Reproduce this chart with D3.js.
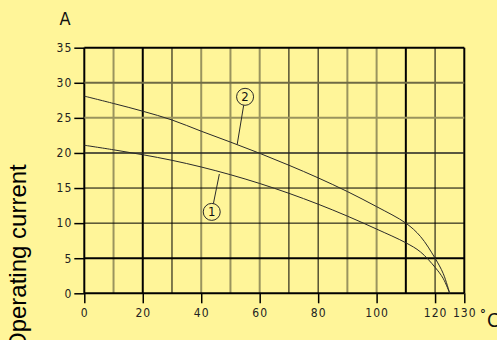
<!DOCTYPE html>
<html>
<head>
<meta charset="utf-8">
<script src="https://cdn.jsdelivr.net/npm/d3@7"></script>
<style>
  html, body { margin: 0; padding: 0; background: #fff599; }
  svg { display: block; }
</style>
</head>
<body>
<svg id="chart" width="497" height="340"></svg>
<script>
// ---- data ----
const temperature1 = [0, 10, 20, 30, 40, 50, 60, 70, 80, 90, 100, 110, 115, 120, 122.8, 125];
const current1     = [21.1, 20.45, 19.75, 18.95, 18.0, 16.9, 15.65, 14.25, 12.7, 11.0, 9.15, 7.2, 5.9, 3.7, 2.1, 0];
const temperature2 = [0, 10, 20, 30, 40, 50, 60, 70, 80, 90, 100, 110, 115, 120, 122.8, 125];
const current2     = [28.1, 27.05, 25.95, 24.7, 23.1, 21.55, 19.95, 18.25, 16.45, 14.5, 12.35, 10.0, 8.1, 5.0, 2.8, 0];
const seriesLabels = ["1", "2"];
const labelCircleX = [43.6, 55.0];   // data coords of label circles
const labelCircleY = [11.6, 28.0];
const leaderX      = [46.2, 52.3];   // point on curve the leader touches
const leaderY      = [17.0, 21.2];
const xTickValues = [0, 20, 40, 60, 80, 100, 120, 130];
const yTickValues = [0, 5, 10, 15, 20, 25, 30, 35];
const xGridValues = [0, 10, 20, 30, 40, 50, 60, 70, 80, 90, 100, 110, 120, 130];
const yGridValues = [0, 5, 10, 15, 20, 25, 30, 35];
const yUnit = "A";
const xUnitDeg = "°";
const xUnitC = "C";
const yTitle = "Operating current";

// ---- drawing ----
const svg = d3.select("#chart");
const x = d3.scaleLinear().domain([0, 130]).range([84.3, 464.3]);
const y = d3.scaleLinear().domain([0, 35]).range([293.3, 47.7]);
const narrow = "'Liberation Sans Narrow', 'DejaVu Sans Condensed', 'Liberation Sans', sans-serif";

// grid styling rules
const xThick = new Set([0, 20, 110, 130]);
const xFaint = new Set([10, 40, 50, 60, 90, 100]);
const yThick = new Set([0, 5, 35]);
function xGridStyle(v) {
  if (xThick.has(v)) return {c: "#000", w: 2};
  if (xFaint.has(v)) return {c: "#9a945e", w: 2};
  return {c: "#000", w: 1};
}
function yGridStyle(v) {
  if (yThick.has(v)) return {c: "#000", w: 2};
  if (v === 25) return {c: "#9a945e", w: 2};
  if (v === 30) return {c: "#6f6a45", w: 2};
  if (v === 20) return {c: "#222", w: 1.5};
  return {c: "#000", w: 1};
}

const grid = svg.append("g");
grid.selectAll("line.v").data(xGridValues).join("line")
  .attr("class", "v")
  .attr("x1", d => x(d)).attr("x2", d => x(d))
  .attr("y1", y(0)).attr("y2", y(35))
  .attr("stroke", d => xGridStyle(d).c)
  .attr("stroke-width", d => xGridStyle(d).w);
grid.selectAll("line.h").data(yGridValues).join("line")
  .attr("class", "h")
  .attr("x1", x(0)).attr("x2", x(130))
  .attr("y1", d => y(d)).attr("y2", d => y(d))
  .attr("stroke", d => yGridStyle(d).c)
  .attr("stroke-width", d => yGridStyle(d).w);

// axes (ticks + labels)
const yAxis = svg.append("g")
  .attr("transform", `translate(${x(0)},0)`)
  .call(d3.axisLeft(y).tickValues(yTickValues).tickSize(10).tickPadding(2));
const xAxis = svg.append("g")
  .attr("transform", `translate(0,${y(0)})`)
  .call(d3.axisBottom(x).tickValues(xTickValues).tickSize(10).tickPadding(5));
[yAxis, xAxis].forEach(a => {
  a.select(".domain").remove();
  a.selectAll(".tick line").attr("stroke", "#000").attr("stroke-width", 1.5);
  a.selectAll(".tick text")
    .attr("fill", "#222")
    .style("font-family", narrow)
    .style("font-size", "12px")
    .style("letter-spacing", "1px");
});

// curves
const line = d3.line().curve(d3.curveCatmullRom.alpha(0.5)).x(d => x(d[0])).y(d => y(d[1]));
const s1 = temperature1.map((t, i) => [t, current1[i]]);
const s2 = temperature2.map((t, i) => [t, current2[i]]);
svg.append("g").selectAll("path").data([s1, s2]).join("path")
  .attr("d", line)
  .attr("fill", "none")
  .attr("stroke", "#2a2a2a")
  .attr("stroke-width", 1);

// series labels with leaders
const labels = svg.append("g");
seriesLabels.forEach((lab, i) => {
  const cx = x(labelCircleX[i]), cy = y(labelCircleY[i]);
  const lx = x(leaderX[i]), ly = y(leaderY[i]);
  const r = 8.5;
  const ang = Math.atan2(ly - cy, lx - cx);
  labels.append("line")
    .attr("x1", cx + r * Math.cos(ang)).attr("y1", cy + r * Math.sin(ang))
    .attr("x2", lx).attr("y2", ly)
    .attr("stroke", "#2a2a2a").attr("stroke-width", 1);
  labels.append("circle")
    .attr("cx", cx).attr("cy", cy).attr("r", r)
    .attr("fill", "none").attr("stroke", "#2a2a2a").attr("stroke-width", 1);
  labels.append("text")
    .attr("x", cx).attr("y", cy + 4.5)
    .attr("text-anchor", "middle")
    .style("font-family", narrow).style("font-size", "13px")
    .attr("fill", "#111")
    .text(lab);
});

// unit labels
svg.append("text")
  .attr("x", 65).attr("y", 25)
  .attr("text-anchor", "middle")
  .style("font-family", narrow).style("font-size", "18px")
  .attr("fill", "#111")
  .text(yUnit);
svg.append("text")
  .attr("x", 480).attr("y", 318)
  .style("font-family", narrow).style("font-size", "13px").style("font-weight", "bold")
  .attr("fill", "#111")
  .text(xUnitDeg);
svg.append("text")
  .attr("x", 487).attr("y", 327)
  .style("font-family", narrow).style("font-size", "20px")
  .attr("fill", "#111")
  .text(xUnitC);

// y title
svg.append("text")
  .attr("transform", "translate(26,351) rotate(-90)")
  .style("font-family", "'Liberation Sans', Arial, sans-serif")
  .style("font-size", "24px")
  .attr("fill", "#000")
  .text(yTitle);
</script>
</body>
</html>
